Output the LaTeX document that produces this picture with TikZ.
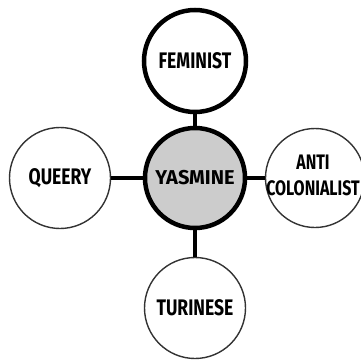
\documentclass[tikz,border=0pt]{standalone}
\usepackage{fontspec}
\setmainfont{Fira Sans}
\newfontfamily\condfont[FakeStretch=0.78]{Fira Sans}
\newfontfamily\narrowfont[FakeStretch=0.76]{Fira Sans}
\begin{document}
\begin{tikzpicture}[x=1pt,y=-1pt,
  thickcirc/.style={circle,draw=black,line width=4.5pt,inner sep=0pt,font=\condfont\bfseries\fontsize{22.5}{22}\selectfont},
  thincirc/.style={circle,draw=black!80,line width=1.4pt,inner sep=0pt,align=center,font=\condfont\bfseries\fontsize{22.5}{26}\selectfont},
  link/.style={line width=3.5pt,black}]
\useasboundingbox (0,0) rectangle (361,364);
\node[thickcirc,fill=black!20,minimum size=100pt,font=\bfseries\fontsize{20}{20}\selectfont] (c) at (195,178) {YASMINE};
\node[thickcirc,minimum size=102pt] (f) at (195,61) {FEMINIST};
\node[thincirc,minimum size=101pt] (q) at (60,178) {QUEERY};
\node[thincirc,minimum size=99pt] (a) at (315,178) {};
\node[font=\narrowfont\bfseries\fontsize{21}{26}\selectfont,align=center,inner sep=0pt] (al) at (313,175) {ANTI\\COLONIALIST};
\node[thincirc,minimum size=101pt] (t) at (195,308) {TURINESE};
\draw[link] (c) -- (f);
\draw[link] (c) -- (q);
\draw[link] (c) -- (a);
\draw[link] (c) -- (t);
\end{tikzpicture}
\end{document}
